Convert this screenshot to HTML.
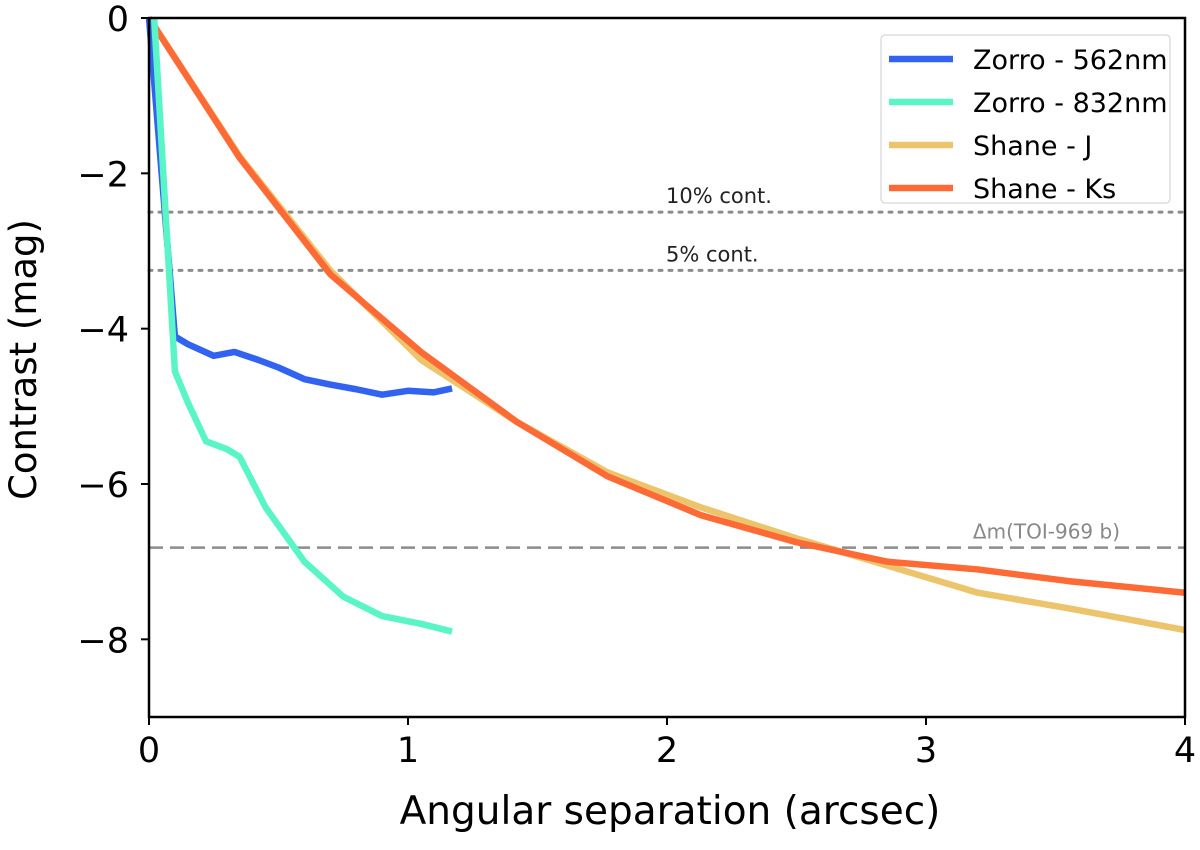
<!DOCTYPE html>
<html><head><meta charset="utf-8"><style>
body{margin:0;background:#fff;}
svg text{font-family:"DejaVu Sans","Liberation Sans",sans-serif;}
</style></head><body>
<svg id="chart" width="1200" height="845">
<g id="plot"></g>
</svg>
<script>
const zorro562X=[0,0.1,0.15,0.25,0.33,0.42,0.5,0.6,0.7,0.8,0.9,1.0,1.1,1.17];
const zorro562Y=[0,-4.1,-4.2,-4.35,-4.3,-4.4,-4.5,-4.65,-4.72,-4.78,-4.85,-4.8,-4.82,-4.77];
const zorro832X=[0.02,0.1,0.15,0.22,0.3,0.35,0.45,0.6,0.75,0.9,1.05,1.17];
const zorro832Y=[0,-4.55,-4.95,-5.45,-5.55,-5.65,-6.3,-7.0,-7.45,-7.7,-7.8,-7.9];
const shaneJX=[0,0.35,0.7,1.05,1.42,1.77,2.13,2.5,2.85,3.2,3.55,4];
const shaneJY=[0,-1.78,-3.25,-4.4,-5.2,-5.85,-6.3,-6.7,-7.05,-7.4,-7.6,-7.88];
const shaneKsX=[0,0.35,0.7,1.05,1.42,1.77,2.13,2.5,2.85,3.2,3.55,4];
const shaneKsY=[0,-1.8,-3.3,-4.3,-5.2,-5.9,-6.4,-6.75,-7.0,-7.1,-7.25,-7.4];
const xTicks=[0,1,2,3,4];
const yTicks=[0,-2,-4,-6,-8];
const refLevels=[-2.5,-3.25,-6.82];
const refLabels=["10% cont.","5% cont.","Δm(TOI-969 b)"];

const L=149,R=1185,T=18,B=717;
const xs=v=>L+(v-0)/4*(R-L);
const ys=v=>T+(0-v)/9*(B-T);
const NS="http://www.w3.org/2000/svg";
const g=document.getElementById('plot');
function mk(tag,attrs,parent){const e=document.createElementNS(NS,tag);for(const k in attrs)e.setAttribute(k,attrs[k]);(parent||g).appendChild(e);return e;}

refLevels.forEach((v,i)=>{
  const ln=mk('line',{x1:L,x2:R,y1:ys(v),y2:ys(v),stroke:'#8c8c8c','stroke-width':i<2?3:2.5,'stroke-dasharray':i<2?'3,7':'14,7','stroke-linecap':i<2?'round':'butt'});
  
  
  const t=mk('text',{x:i<2?666:1120,y:ys(v)-9,'font-size':i<2?21:20,fill:i<2?'#222':'#888','text-anchor':i<2?'start':'end'});
  t.textContent=refLabels[i];
  
  
});

const series=[
 {x:shaneJX,y:shaneJY,c:'#ebc46c',n:'series-shane-j'},
 {x:shaneKsX,y:shaneKsY,c:'#fd6a35',n:'series-shane-ks'},
 {x:zorro562X,y:zorro562Y,c:'#3263f0',n:'series-zorro-562nm'},
 {x:zorro832X,y:zorro832Y,c:'#5af5c6',n:'series-zorro-832nm'}
];
series.forEach(s=>{
  const p=mk('polyline',{points:s.x.map((v,i)=>xs(v)+','+ys(s.y[i])).join(' '),fill:'none',stroke:s.c,'stroke-width':6.5,'stroke-linejoin':'round','stroke-linecap':'butt'});
  
  
});

const fr=mk('rect',{x:L,y:T,width:R-L,height:B-T,fill:'none',stroke:'#000','stroke-width':2.5});



xTicks.forEach(v=>{
  mk('line',{x1:xs(v),x2:xs(v),y1:B,y2:B+8,stroke:'#000','stroke-width':2});
  const t=mk('text',{x:xs(v),y:B+45,'font-size':35,'text-anchor':'middle',fill:'#000'});
  t.textContent=v;
  
  
});
yTicks.forEach(v=>{
  mk('line',{x1:L-8,x2:L,y1:ys(v),y2:ys(v),stroke:'#000','stroke-width':2});
  const t=mk('text',{x:L-20,y:ys(v)+13,'font-size':35,'text-anchor':'end',fill:'#000'});
  t.textContent=v===0?'0':'\u2212'+Math.abs(v);
  
  
});
const xt=mk('text',{x:670,y:824,'font-size':39,'text-anchor':'middle',fill:'#000'});
xt.textContent='Angular separation (arcsec)';


const yt=mk('text',{x:0,y:0,'font-size':37,'text-anchor':'middle',fill:'#000',transform:'translate(36,'+((T+B)/2-8)+') rotate(-90)'});
yt.textContent='Contrast (mag)';



const lg=mk('g',{});


mk('rect',{x:881,y:35,width:289,height:168,rx:4,fill:'#fff',stroke:'#ddd','stroke-width':1.5},lg);
const legItems=[['Zorro - 562nm','#3263f0'],['Zorro - 832nm','#5af5c6'],['Shane - J','#ebc46c'],['Shane - Ks','#fd6a35']];
legItems.forEach((it,i)=>{
  const yy=59+i*43;
  const e=mk('g',{},lg);
  
  
  mk('line',{x1:889,x2:953,y1:yy,y2:yy,stroke:it[1],'stroke-width':6.5},e);
  const t=mk('text',{x:973,y:yy+10,'font-size':27,fill:'#000'},e);
  t.textContent=it[0];
});
</script>
</body></html>
